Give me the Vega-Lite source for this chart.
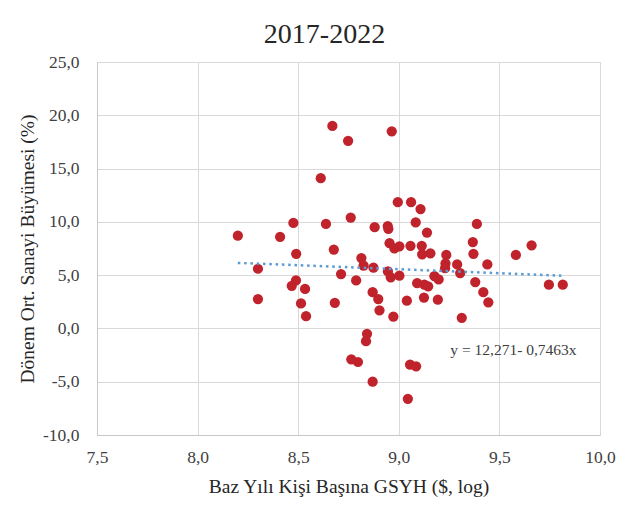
{
  "$schema": "https://vega.github.io/schema/vega-lite/v6.json",
  "width": 503,
  "height": 373,
  "autosize": "none",
  "padding": {"left": 97, "top": 62, "right": 38, "bottom": 83},
  "background": "white",
  "config": {
    "font": "Liberation Serif",
    "view": {"stroke": "#D9D9D9", "strokeWidth": 1}
  },
  "title": {
    "text": "2017-2022",
    "fontSize": 28,
    "font": "Liberation Serif",
    "fontWeight": "normal",
    "color": "#262626",
    "offset": 4,
    "dx": -24,
    "anchor": "middle"
  },
  "datasets": {
    "pts": [
      {"x": 8.20, "y": 8.7}, {"x": 8.30, "y": 5.6}, {"x": 8.30, "y": 2.75}, {"x": 8.41, "y": 8.6},
      {"x": 8.476, "y": 9.9}, {"x": 8.49, "y": 7.0}, {"x": 8.489, "y": 4.5}, {"x": 8.468, "y": 4.0},
      {"x": 8.534, "y": 3.7}, {"x": 8.514, "y": 2.35}, {"x": 8.539, "y": 1.15}, {"x": 8.612, "y": 14.1},
      {"x": 8.638, "y": 9.8}, {"x": 8.67, "y": 19.0}, {"x": 8.677, "y": 7.4}, {"x": 8.682, "y": 2.4},
      {"x": 8.713, "y": 5.1}, {"x": 8.748, "y": 17.6}, {"x": 8.761, "y": 10.4}, {"x": 8.764, "y": -2.9},
      {"x": 8.797, "y": -3.15}, {"x": 8.788, "y": 4.5}, {"x": 8.814, "y": 6.6}, {"x": 8.825, "y": 5.9},
      {"x": 8.874, "y": 5.7}, {"x": 8.842, "y": -0.5}, {"x": 8.837, "y": -1.2}, {"x": 8.87, "y": -5.0},
      {"x": 8.87, "y": 3.4}, {"x": 8.898, "y": 2.75}, {"x": 8.904, "y": 1.7}, {"x": 8.88, "y": 9.5},
      {"x": 8.945, "y": 9.6}, {"x": 8.948, "y": 9.35}, {"x": 8.954, "y": 8.0}, {"x": 8.965, "y": 18.5},
      {"x": 8.978, "y": 7.5}, {"x": 9.003, "y": 7.7}, {"x": 8.946, "y": 5.35}, {"x": 8.96, "y": 4.8},
      {"x": 9.003, "y": 4.95}, {"x": 8.973, "y": 1.1}, {"x": 8.995, "y": 11.85}, {"x": 9.061, "y": 11.85},
      {"x": 9.108, "y": 11.2}, {"x": 9.084, "y": 9.95}, {"x": 9.14, "y": 9.0}, {"x": 9.058, "y": 7.75},
      {"x": 9.114, "y": 7.75}, {"x": 9.116, "y": 6.95}, {"x": 9.157, "y": 7.05}, {"x": 9.236, "y": 6.9},
      {"x": 9.04, "y": 2.6}, {"x": 9.056, "y": -3.4}, {"x": 9.086, "y": -3.55}, {"x": 9.045, "y": -6.6},
      {"x": 9.091, "y": 4.25}, {"x": 9.127, "y": 4.1}, {"x": 9.146, "y": 3.95}, {"x": 9.125, "y": 2.9},
      {"x": 9.194, "y": 2.7}, {"x": 9.177, "y": 4.9}, {"x": 9.198, "y": 4.6}, {"x": 9.232, "y": 6.1},
      {"x": 9.23, "y": 5.65}, {"x": 9.29, "y": 6.0}, {"x": 9.305, "y": 5.2}, {"x": 9.313, "y": 1.0},
      {"x": 9.368, "y": 8.1}, {"x": 9.371, "y": 7.0}, {"x": 9.388, "y": 9.8}, {"x": 9.38, "y": 4.35},
      {"x": 9.42, "y": 3.4}, {"x": 9.445, "y": 2.45}, {"x": 9.44, "y": 6.0}, {"x": 9.582, "y": 6.9},
      {"x": 9.66, "y": 7.8}, {"x": 9.746, "y": 4.1}, {"x": 9.815, "y": 4.1}
    ],
    "trend": [
      {"x": 8.2, "y": 6.151},
      {"x": 9.81, "y": 4.95}
    ],
    "label": [
      {"x": 9.57, "y": -2.0, "t": "y = 12,271- 0,7463x"}
    ]
  },
  "layer": [
    {
      "data": {"name": "pts"},
      "mark": {"type": "circle", "size": 105, "color": "#C0232B", "opacity": 1},
      "encoding": {
        "x": {
          "field": "x", "type": "quantitative",
          "scale": {"domain": [7.5, 10.0], "nice": false, "zero": false},
          "axis": {
            "title": "Baz Yılı Kişi Başına GSYH ($, log)",
            "values": [7.5, 8.0, 8.5, 9.0, 9.5, 10.0],
            "labelExpr": "replace(format(datum.value, '.1f'), '.', ',')",
            "labelFont": "Liberation Serif", "labelFontSize": 17.5, "labelColor": "#404040",
            "labelPadding": 13, "labelFlush": false,
            "titleFont": "Liberation Serif", "titleFontSize": 19.5, "titleFontWeight": "normal", "titleColor": "#262626",
            "titlePadding": 12,
            "grid": true, "gridColor": "#D9D9D9", "gridWidth": 1,
            "domainColor": "#C8C8C8", "domainWidth": 1,
            "ticks": false
          }
        },
        "y": {
          "field": "y", "type": "quantitative",
          "scale": {"domain": [-10, 25], "nice": false, "zero": false},
          "axis": {
            "title": "Dönem Ort. Sanayi Büyümesi (%)",
            "values": [-10, -5, 0, 5, 10, 15, 20, 25],
            "labelExpr": "replace(replace(format(datum.value, '.1f'), '.', ','), '\u2212', '-')",
            "labelFont": "Liberation Serif", "labelFontSize": 17.5, "labelColor": "#404040",
            "labelPadding": 18, "labelFlush": false,
            "titleFont": "Liberation Serif", "titleFontSize": 19.5, "titleFontWeight": "normal", "titleColor": "#262626",
            "titlePadding": 5,
            "grid": true, "gridColor": "#D9D9D9", "gridWidth": 1,
            "domainColor": "#C8C8C8", "domainWidth": 1,
            "ticks": false
          }
        }
      }
    },
    {
      "data": {"name": "trend"},
      "mark": {"type": "line", "color": "#5B9BD5", "strokeWidth": 2.5, "strokeDash": [2.5, 3.8]},
      "encoding": {
        "x": {"field": "x", "type": "quantitative"},
        "y": {"field": "y", "type": "quantitative"}
      }
    },
    {
      "data": {"name": "label"},
      "mark": {"type": "text", "font": "Liberation Serif", "fontSize": 15.5, "color": "#404040", "align": "center", "baseline": "middle"},
      "encoding": {
        "x": {"field": "x", "type": "quantitative"},
        "y": {"field": "y", "type": "quantitative"},
        "text": {"field": "t"}
      }
    }
  ]
}
